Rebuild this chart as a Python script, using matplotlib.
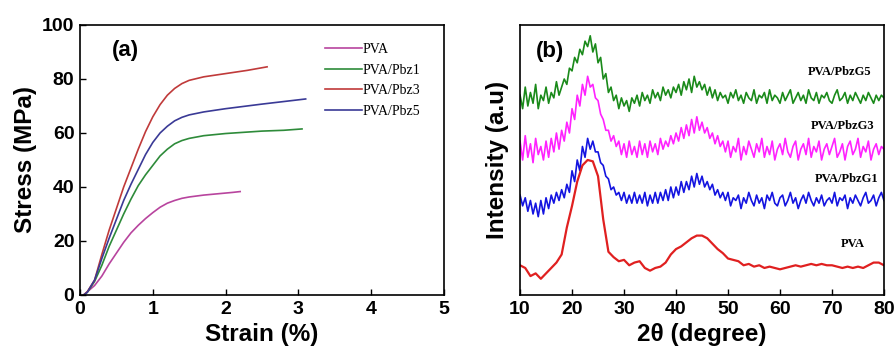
import matplotlib
matplotlib.use('Agg')
from matplotlib import pyplot as plt

# (a) stress-strain curves
pva_x = [0.05, 0.2, 0.3, 0.4, 0.5, 0.6, 0.7, 0.8, 0.9, 1.0, 1.1, 1.2, 1.3, 1.4, 1.5, 1.7, 1.9, 2.1, 2.2]
pva_y = [0, 3.5, 7, 11.5, 15.5, 19.5, 23, 25.8, 28.3, 30.5, 32.5, 34, 35, 35.8, 36.3, 37, 37.5, 38, 38.3]
pbz1_x = [0.05, 0.1, 0.2, 0.3, 0.4, 0.5, 0.6, 0.7, 0.8, 0.9, 1.0, 1.1, 1.2, 1.3, 1.4, 1.5, 1.7, 2.0, 2.5, 2.8, 3.05]
pbz1_y = [0, 1, 5, 11, 18, 24, 30, 35.5, 40.5, 44.5, 48, 51.5, 54, 56, 57.2, 58, 59, 59.8, 60.7, 61, 61.5]
pbz3_x = [0.05, 0.1, 0.2, 0.3, 0.4, 0.5, 0.6, 0.7, 0.8, 0.9, 1.0, 1.1, 1.2, 1.3, 1.4, 1.5, 1.7, 2.0, 2.3, 2.57]
pbz3_y = [0, 1.2, 5.5, 15, 24, 32, 40, 47, 54, 60.5, 66, 70.5, 74, 76.5, 78.3, 79.5, 80.8, 82, 83.2, 84.5]
pbz5_x = [0.05, 0.1, 0.2, 0.3, 0.4, 0.5, 0.6, 0.7, 0.8, 0.9, 1.0, 1.1, 1.2, 1.3, 1.4, 1.5, 1.7, 2.0, 2.5, 3.1]
pbz5_y = [0, 1, 5.5, 13.5, 21, 28, 35, 41, 46.5, 52, 56.5, 60, 62.5, 64.5, 65.8, 66.7, 67.8, 69, 70.7, 72.6]

# (b) XRD patterns (offset intensities, a.u.)
theta_pva = list(range(10, 81))
xrd_pva = [11, 10, 7, 8, 6, 8, 10, 12, 15, 25, 33, 42, 48, 50, 49.5, 44, 28, 16, 14, 12.5,
           13, 11, 12, 12.5, 10, 9, 10, 10.5, 12, 15, 17, 18, 19.5, 21, 22, 22, 21, 19, 17, 15.5,
           13.5, 13, 12.5, 11, 11.5, 10.5, 11, 10, 10.5, 10, 9.5, 10, 10.5, 11, 10.5, 11, 11.5, 11, 11.5, 11,
           11, 10.5, 10, 10.5, 10, 10.5, 10, 11, 12, 12, 11]

# noisy patterns read every 0.5 degree
theta_fine = [10 + 0.5 * i for i in range(141)]
xrd_g1 = [37, 33, 36, 31, 35, 30, 34, 29, 35, 30, 36, 32, 37, 34, 38, 35, 39, 36, 41, 38,
          46, 42, 50, 46, 55, 51, 58, 54, 57, 53, 53, 49, 48, 44, 43, 39, 40, 37, 38, 35,
          38, 34, 37, 34, 38, 34, 37, 34, 38, 33, 37, 34, 38, 34, 38, 35, 39, 35, 40, 36,
          40, 37, 42, 38, 42, 39, 44, 40, 45, 41, 44, 40, 42, 39, 41, 37, 39, 36, 38, 35,
          38, 33, 36, 35, 37, 32, 36, 34, 38, 35, 33, 37, 34, 36, 32, 37, 35, 38, 34, 33,
          36, 37, 33, 35, 38, 34, 36, 32, 35, 37, 34, 38, 35, 33, 36, 34, 37, 33, 35, 36,
          34, 38, 33, 36, 35, 37, 32, 36, 34, 37, 35, 33, 36, 38, 34, 35, 37, 33, 36, 38,
          35]
xrd_g3 = [57, 50, 59, 51, 56, 49, 58, 52, 55, 50, 57, 51, 58, 53, 60, 54, 61, 57, 64, 60,
          69, 65, 74, 70, 78, 74, 81, 77, 78, 73, 72, 67, 65, 61, 61, 57, 59, 55, 57, 52,
          56, 51, 57, 52, 55, 51, 57, 52, 56, 51, 57, 53, 56, 52, 58, 54, 57, 55, 59, 56,
          60, 57, 62, 58, 63, 59, 65, 60, 66, 61, 64, 60, 62, 58, 60, 56, 59, 55, 57, 53,
          57, 51, 55, 53, 58, 50, 55, 52, 57, 54, 51, 56, 53, 58, 51, 55, 52, 57, 50, 54,
          56, 52, 58, 53, 51, 55, 57, 50, 54, 56, 52, 58, 51, 55, 53, 57, 50, 54, 56, 52,
          55, 58, 51, 53, 56, 50, 55, 57, 52, 54, 58, 51, 55, 53, 57, 50, 54, 56, 52, 55,
          54]
xrd_g5 = [74, 69, 77, 70, 75, 71, 78, 69, 74, 72, 77, 71, 75, 73, 79, 74, 77, 80, 78, 84,
          83, 88, 86, 91, 89, 94, 92, 96, 90, 93, 86, 88, 80, 82, 75, 77, 72, 74, 69, 73,
          70, 72, 68, 73, 71, 74, 70, 75, 72, 74, 71, 76, 73, 75, 72, 77, 74, 76, 73, 77,
          75, 78, 74, 79, 76, 80, 75, 81, 77, 79, 76, 78, 74, 77, 73, 76, 72, 75, 73, 74,
          71, 75, 73, 76, 72, 74, 71, 75, 73, 72, 76, 71, 74, 73, 75, 71, 76, 72, 74, 73,
          71, 75, 72, 74, 76, 71, 73, 75, 72, 74, 71, 76, 73, 72, 75, 71, 74, 73, 75, 72,
          71, 74, 76, 72, 73, 75, 71, 74, 72, 75, 73, 71, 74, 72, 75, 73, 71, 74, 72, 74,
          73]

sans = 'Liberation Sans'
serif = 'Liberation Serif'

fig = plt.figure(figsize=(8.94, 3.52), dpi=100)
ax1 = fig.add_axes([0.0895, 0.162, 0.4071, 0.767])
ax2 = fig.add_axes([0.5817, 0.162, 0.4071, 0.767])

ax1.plot(pva_x, pva_y, color='#b8449e', lw=1.2, label='PVA')
ax1.plot(pbz1_x, pbz1_y, color='#2e8b3a', lw=1.2, label='PVA/Pbz1')
ax1.plot(pbz3_x, pbz3_y, color='#c03a3a', lw=1.2, label='PVA/Pbz3')
ax1.plot(pbz5_x, pbz5_y, color='#3a3a96', lw=1.2, label='PVA/Pbz5')
ax1.set_xlim(0, 5)
ax1.set_ylim(0, 100)
ax1.set_xticks([0, 1, 2, 3, 4, 5])
ax1.set_yticks([0, 20, 40, 60, 80, 100])
ax1.set_xlabel('Strain (%)', fontsize=17.5, fontweight='bold', family=sans, labelpad=4)
ax1.set_ylabel('Stress (MPa)', fontsize=17.5, fontweight='bold', family=sans, labelpad=4)
ax1.text(0.62, 90.5, '(a)', fontsize=16, fontweight='bold', family=sans, ha='center', va='center')
ax1.legend(loc='upper left', bbox_to_anchor=(0.64, 0.98), frameon=False,
           handlelength=2.6, handletextpad=0.1, labelspacing=0.55,
           prop={'family': serif, 'size': 10})

ax2.plot(theta_fine, xrd_g5, color='#1a8a1a', lw=1.2)
ax2.plot(theta_fine, xrd_g3, color='#ff22ff', lw=1.2)
ax2.plot(theta_fine, xrd_g1, color='#1414e0', lw=1.2)
ax2.plot(theta_pva, xrd_pva, color='#e02020', lw=1.6)
ax2.set_xlim(10, 80)
ax2.set_ylim(0, 100)
ax2.set_xticks([10, 20, 30, 40, 50, 60, 70, 80])
ax2.set_yticks([])
ax2.set_xlabel('2\u03b8 (degree)', fontsize=17.5, fontweight='bold', family=sans, labelpad=4)
ax2.set_ylabel('Intensity (a.u)', fontsize=17.5, fontweight='bold', family=sans, labelpad=8)
ax2.text(15.8, 90, '(b)', fontsize=16, fontweight='bold', family=sans, ha='center', va='center')
for lx, ly, s in [(71.5, 82.6, 'PVA/PbzG5'), (72.1, 62.6, 'PVA/PbzG3'),
                  (72.9, 43, 'PVA/PbzG1'), (74, 18.9, 'PVA')]:
    ax2.text(lx, ly, s, fontsize=9, fontweight='bold', family=serif, ha='center', va='center')

for ax in (ax1, ax2):
    ax.tick_params(direction='in', length=4, width=1, labelsize=14, pad=4)
    for lab in ax.get_xticklabels() + ax.get_yticklabels():
        lab.set_fontweight('bold')
        lab.set_family(sans)
    for sp in ax.spines.values():
        sp.set_linewidth(1.2)

fig.savefig('out.png', dpi=100)
